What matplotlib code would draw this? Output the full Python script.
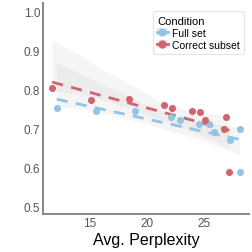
import matplotlib

matplotlib.use("Agg")
import matplotlib.pyplot as plt
import numpy as np
import seaborn as sns
from matplotlib.lines import Line2D
from matplotlib.patches import Patch

plt.rcParams["font.family"] = ["Liberation Sans", "DejaVu Sans"]

# Full set
full_ppl = [12.16, 15.58, 19.0, 22.1, 22.85, 24.55, 25.4, 25.85, 27.27, 28.1, 28.14]
full_acc = [0.754, 0.744, 0.746, 0.730, 0.721, 0.712, 0.712, 0.692, 0.671, 0.699, 0.588]
# Correct subset
corr_ppl = [11.77, 15.12, 18.49, 21.5, 22.18, 23.9, 24.65, 25.08, 26.7, 26.92, 27.2]
corr_acc = [0.804, 0.774, 0.775, 0.760, 0.754, 0.746, 0.743, 0.723, 0.699, 0.730, 0.589]

BLUE = "#93c4e6"
RED = "#d2646f"
BAND = "#bcbcbc"

fig = plt.figure(figsize=(2.53, 2.53), dpi=100)
ax = fig.add_axes([0.17, 0.15, 0.814, 0.834])

series = [(full_ppl, full_acc, BLUE, "Full set"), (corr_ppl, corr_acc, RED, "Correct subset")]
handles = []
for x, y, c, name in series:
    x = np.array(x)
    y = np.array(y)
    # gray confidence band
    sns.regplot(x=x, y=y, ax=ax, scatter=False, color=BAND, ci=95, seed=0,
                line_kws={"alpha": 0})
    # colored dashed fit
    sns.regplot(x=x, y=y, ax=ax, scatter=False, ci=None, color=c,
                line_kws={"linestyle": (0, (4, 3)), "linewidth": 2})
    ax.scatter(x, y, s=26, color=c, zorder=3, linewidths=0)
    handles.append((Patch(facecolor=BAND, alpha=0.25),
                    Line2D([], [], color=c, marker="o", markersize=5, linestyle="-", linewidth=2)))

ax.set_xlim(10.96, 28.9)
ax.set_ylim(0.48, 1.023)
ax.set_xticks([15, 20, 25])
ax.set_yticks([0.5, 0.6, 0.7, 0.8, 0.9, 1.0])
ax.set_xlabel("Avg. Perplexity", fontsize=11.5, labelpad=2)
ax.tick_params(length=0, labelsize=8.5, labelcolor="#555555", pad=2)
for s in ["top", "right"]:
    ax.spines[s].set_visible(False)
for s in ["left", "bottom"]:
    ax.spines[s].set_color("#888888")
    ax.spines[s].set_linewidth(1.4)

leg = ax.legend(handles, [h for *_, h in series], title="Condition", loc="upper right",
                fontsize=7.5, title_fontsize=8, frameon=True, handlelength=1.0,
                handletextpad=0.4, borderpad=0.4, labelspacing=0.2,
                bbox_to_anchor=(1.0, 0.985))
leg.get_frame().set_edgecolor("#dddddd")
leg.get_frame().set_linewidth(0.8)
leg._legend_box.align = "left"

fig.savefig("out.png", dpi=100)
